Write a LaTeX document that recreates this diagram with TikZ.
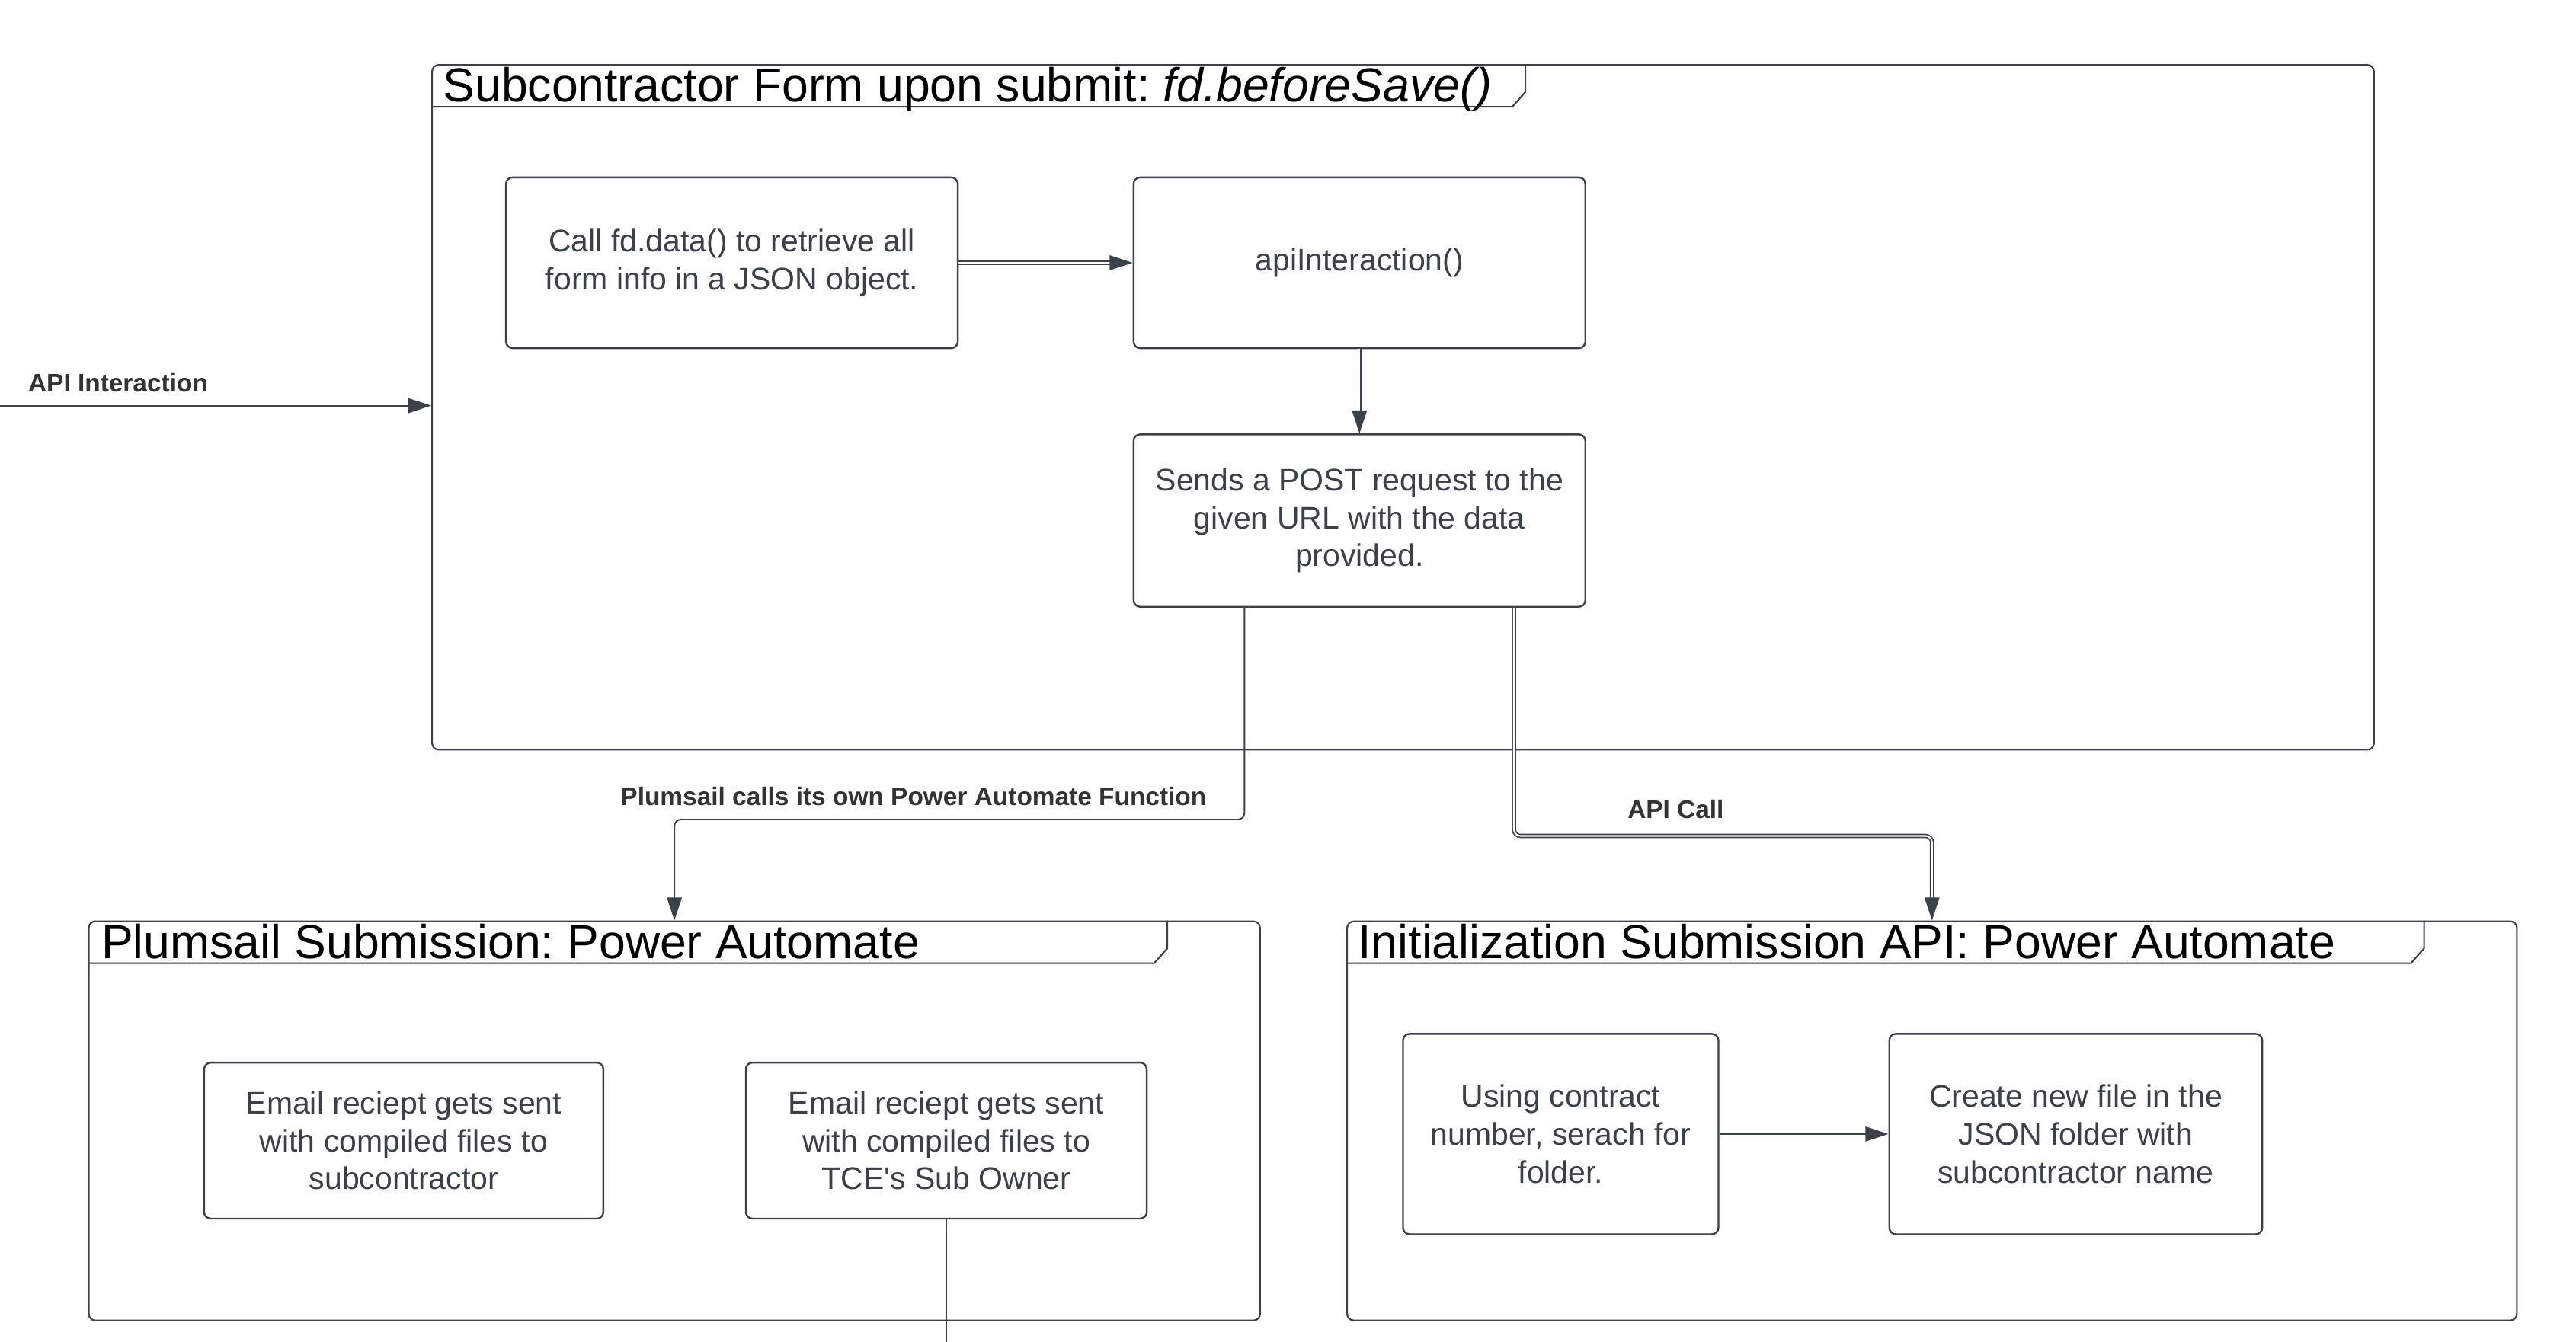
\documentclass[tikz,border=0pt]{standalone}
\usepackage{fontspec}
\setmainfont{Liberation Sans}
\usepackage{tikz}
\usetikzlibrary{arrows.meta}
\definecolor{lucidgray}{HTML}{3A414A}
\definecolor{lucidtext}{HTML}{333333}
\frenchspacing

\tikzset{
  stepbox/.style={draw=lucidgray, line width=1.1pt, rounded corners=4pt, inner sep=0pt,
    text=lucidgray, align=center, font=\fontsize{19}{23}\selectfont},
  frame/.style={draw=lucidgray, line width=1pt, rounded corners=4pt, inner sep=0pt},
  tabline/.style={draw=lucidgray, line width=1pt},
  frametitle/.style={anchor=base west, inner sep=0pt, font=\fontsize{29}{34}\selectfont},
  lbl/.style={inner sep=0pt, text=lucidtext, font=\bfseries\fontsize{15.5}{18}\selectfont},
  plain/.style={draw=lucidgray, line width=0.9pt},
  conn/.style={plain, -{Triangle[length=14pt,width=9pt]}},
  dconn/.style={conn, double=white, double distance=1pt, line width=0.8pt}
}

\begin{document}
\begin{tikzpicture}[x=1pt,y=-1pt]
\useasboundingbox (0,0) rectangle (1568,817);

% frames
\node[frame, minimum width=1182pt, minimum height=417pt] (formframe) at (854,248) {};
\node[frame, minimum width=713pt, minimum height=243pt] (plumframe) at (410.5,682.5) {};
\node[frame, minimum width=712pt, minimum height=243pt] (initframe) at (1176,682.5) {};
\draw[tabline] ([yshift=-26pt]formframe.north west) -- ++(658,0) -- ++(8,-9) -- ++(0,-17);
\draw[tabline] ([yshift=-26pt]plumframe.north west) -- ++(649,0) -- ++(8,-9) -- ++(0,-17);
\draw[tabline] ([yshift=-26pt]initframe.north west) -- ++(648,0) -- ++(8,-9) -- ++(0,-17);
\node[frametitle] (formtitle) at ([xshift=7pt,yshift=-23pt]formframe.north west)
  {Subcontractor Form upon submit: \textit{fd.beforeSave()}};
\node[frametitle] (plumtitle) at ([xshift=8pt,yshift=-23pt]plumframe.north west)
  {Plumsail Submission: Power Automate};
\node[frametitle] (inittitle) at ([xshift=7pt,yshift=-23pt]initframe.north west)
  {Initialization Submission API: Power Automate};

% steps
\node[stepbox, minimum width=275pt, minimum height=104pt] (fetch) at (445.5,160)
  {Call fd.data() to retrieve all\\form info in a JSON object.};
\node[stepbox, minimum width=275pt, minimum height=104pt] (api) at (827.5,160) {apiInteraction()};
\node[stepbox, minimum width=275pt, minimum height=105pt] (post) at (827.5,317)
  {Sends a POST request to the\\given URL with the data\\provided.};
\node[stepbox, minimum width=243pt, minimum height=95pt] (mailsub) at (245.75,694.5)
  {Email reciept gets sent\\with compiled files to\\subcontractor};
\node[stepbox, minimum width=244pt, minimum height=95pt] (mailowner) at (576,694.5)
  {Email reciept gets sent\\with compiled files to\\TCE\textquotesingle s Sub Owner};
\node[stepbox, minimum width=192pt, minimum height=122pt] (contract) at (950,690.5)
  {Using contract\\number, serach for\\folder.};
\node[stepbox, minimum width=227pt, minimum height=122pt] (newfile) at (1263.5,690.5)
  {Create new file in the\\JSON folder with\\subcontractor name};

% connectors
\coordinate (apiin) at (0,247);
\draw[conn] (apiin) -- (apiin -| formframe.west);
\node[lbl, anchor=west] (apilbl) at (17,233) {API Interaction};
\draw[dconn] (fetch) -- (api);
\draw[dconn] (api) -- (post);
\draw[conn, rounded corners=4pt] ([xshift=-70pt]post.south) |- (plumframe.north |- 0,499) -- (plumframe.north);
\node[lbl] (plumlbl) at (556,485) {Plumsail calls its own Power Automate Function};
\draw[dconn, rounded corners=4pt] ([xshift=94pt]post.south) |- (initframe.north |- 0,509) -- (initframe.north);
\node[lbl] (calllbl) at (1020,493) {API Call};
\draw[conn] (contract) -- (newfile);
\coordinate (offpage) at (576,817);
\draw[plain] (mailowner) -- (offpage);
\end{tikzpicture}
\end{document}
